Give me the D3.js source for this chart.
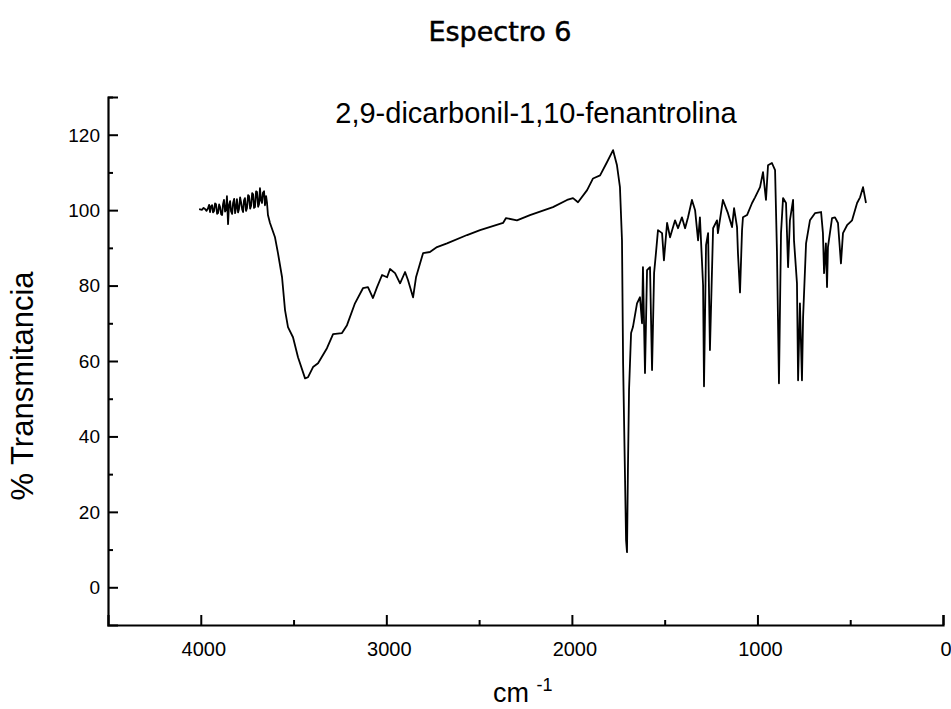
<!DOCTYPE html>
<html>
<head>
<meta charset="utf-8">
<script src="https://cdn.jsdelivr.net/npm/d3@7"></script>
<style>
  html, body { margin: 0; padding: 0; background: #fff; }
  svg { display: block; }
</style>
</head>
<body>
<svg id="chart" width="951" height="709"></svg>
<script>
// ---- data ----
const titleText = "Espectro 6";
const subtitleText = "2,9-dicarbonil-1,10-fenantrolina";
const yLabelText = "% Transmitancia";

const wavenumbers = [
  4009, 3993, 3985, 3977, 3969, 3961, 3955, 3950, 3945, 3939, 3934, 3929, 3923, 3918, 3912, 3907,
  3901, 3896, 3890, 3885, 3880, 3875, 3869, 3864, 3859, 3853, 3848, 3842, 3837, 3831, 3826, 3820,
  3815, 3810, 3805, 3799, 3794, 3788, 3783, 3777, 3772, 3767, 3762, 3756, 3751, 3745, 3740, 3734,
  3729, 3723, 3718, 3713, 3708, 3702, 3697, 3691, 3686, 3681, 3675, 3670, 3665, 3659, 3654, 3648,
  3643, 3638,
  3627, 3600, 3584, 3562, 3546, 3530, 3503, 3476, 3438, 3422, 3395,
  3368, 3320, 3287, 3239, 3212, 3169, 3126, 3099, 3072, 3050, 3023, 2996, 2980, 2953, 2926, 2899,
  2883, 2856, 2840, 2818, 2802, 2765, 2727, 2673, 2565, 2495, 2371, 2355, 2296, 2226, 2102, 2026,
  1994, 1967, 1918, 1886, 1848, 1811, 1778, 1757, 1741, 1730, 1724, 1708, 1703, 1698, 1692, 1681,
  1671, 1649, 1633, 1622, 1617, 1606, 1595, 1579, 1568, 1557, 1547, 1536, 1514, 1504, 1487, 1471,
  1444, 1428, 1407, 1390, 1374, 1353, 1336, 1320, 1310, 1293, 1288, 1277, 1266, 1256, 1239, 1218,
  1213, 1186, 1159, 1137, 1126, 1110, 1105, 1094, 1083, 1078, 1056, 1029, 1013, 986, 970, 954,
  943, 922, 905, 895, 884, 873, 862, 846, 835, 825, 808, 803, 787, 781, 771, 760,
  754, 738, 717, 690, 657, 647, 641, 631, 625, 620, 598, 582, 566, 550, 539, 517,
  490, 463, 447, 431, 415
];
const transmittance = [
  100.3, 100.1, 100.6, 100.3, 99.8, 100.5, 101.4, 99.5, 101.0, 101.3, 99.4, 99.7, 101.8, 101.6, 99.0, 99.2,
  101.5, 100.8, 98.9, 98.7, 101.6, 102.7, 99.6, 100.0, 103.7, 96.3, 101.3, 102.4, 99.7, 99.0, 101.9, 103.0,
  99.2, 100.6, 102.9, 99.4, 100.3, 103.4, 102.1, 100.2, 99.5, 102.6, 103.2, 99.8, 100.5, 104.0, 103.7, 100.4,
  101.1, 104.5, 104.2, 100.6, 100.8, 105.0, 104.8, 100.9, 101.6, 105.8, 102.5, 101.9, 104.6, 105.0, 101.3, 103.7,
  101.9, 98.7,
  96.6, 92.8, 88.6, 82.2, 73.5, 69.0, 66.3, 61.0, 55.4, 55.7, 58.4,
  59.4, 63.4, 67.1, 67.4, 69.5, 75.3, 79.3, 79.6, 76.7, 79.6, 82.8, 82.2, 84.4, 83.3, 80.6, 83.6,
  81.4, 76.9, 82.2, 85.9, 88.6, 88.9, 90.2, 91.2, 93.4, 94.7, 96.6, 97.9, 97.3, 98.7, 100.8, 102.7,
  103.2, 102.1, 105.3, 108.4, 109.2, 112.7, 115.9, 111.9, 106.1, 92.0, 59.4, 12.5, 9.3, 31.0, 52.3, 67.4,
  69.0, 75.3, 76.9, 70.0, 84.9, 56.8, 84.1, 84.9, 57.6, 83.3, 88.6, 94.7, 93.9, 86.7, 96.6, 92.8,
  97.3, 95.2, 98.1, 95.2, 98.1, 102.7, 100.0, 92.0, 98.1, 80.1, 53.3, 90.7, 93.9, 62.9, 95.2, 97.3,
  93.9, 102.7, 99.2, 95.5, 100.5, 95.5, 88.6, 78.2, 94.7, 98.1, 98.7, 101.9, 103.4, 106.1, 110.1, 102.7,
  111.9, 112.5, 110.6, 89.4, 54.1, 93.9, 103.2, 101.9, 84.9, 97.3, 102.7, 92.0, 80.6, 54.9, 75.3, 54.9,
  71.6, 91.2, 97.3, 99.2, 99.5, 93.9, 83.3, 91.2, 79.6, 90.2, 97.9, 98.1, 96.6, 85.9, 93.9, 96.0,
  97.3, 101.9, 103.4, 106.1, 101.9
];

const xMajorTicks = [4000, 3000, 2000, 1000, 0];
const xMinorTicks = [3500, 2500, 1500, 500];
const yMajorTicks = [0, 20, 40, 60, 80, 100, 120];
const yMinorTicks = [10, 30, 50, 70, 90, 110, 130];

// ---- layout ----
const svg = d3.select("#chart");
const plotLeft = 108, plotRight = 943, plotTop = 97, plotBottom = 625;

const x = d3.scaleLinear().domain([4500, 0]).range([plotLeft, plotRight]);
const y = d3.scaleLinear().domain([-10, 130]).range([plotBottom, plotTop]);

const ink = "#000";
const axisFont = "'Liberation Sans', Arial, sans-serif";

// Title
svg.append("text")
  .attr("x", 500).attr("y", 41)
  .attr("text-anchor", "middle")
  .attr("font-family", "'Comic Sans MS', 'DejaVu Sans', sans-serif")
  .attr("font-size", 27)
  .attr("fill", ink)
  .attr("stroke", ink)
  .attr("stroke-width", 0.5)
  .text(titleText);

// Subtitle inside plot
svg.append("text")
  .attr("x", 536).attr("y", 123)
  .attr("text-anchor", "middle")
  .attr("font-family", axisFont)
  .attr("font-size", 29)
  .attr("fill", ink)
  .text(subtitleText);

// Spectrum line
const n = Math.min(wavenumbers.length, transmittance.length);
const points = d3.range(n).map(i => [wavenumbers[i], transmittance[i]]);
svg.append("path")
  .datum(points)
  .attr("fill", "none")
  .attr("stroke", ink)
  .attr("stroke-width", 1.8)
  .attr("stroke-linejoin", "round")
  .attr("d", d3.line().x(d => x(d[0])).y(d => y(d[1])));

// Y axis (ticks inward)
const yAxis = d3.axisRight(y).tickValues(yMajorTicks).tickSize(10).tickFormat("");
const yg = svg.append("g").attr("transform", `translate(${plotLeft},0)`).call(yAxis);
const yMinor = d3.axisRight(y).tickValues(yMinorTicks).tickSize(5).tickFormat("");
const ygm = svg.append("g").attr("transform", `translate(${plotLeft},0)`).call(yMinor);
[yg, ygm].forEach(g => {
  g.select(".domain").attr("stroke", ink).attr("stroke-width", 2.2);
  g.selectAll(".tick line").attr("stroke", ink).attr("stroke-width", 2);
});
ygm.select(".domain").remove();

svg.append("g").selectAll("text")
  .data(yMajorTicks).join("text")
  .attr("x", plotLeft - 8).attr("y", d => y(d))
  .attr("dy", "0.36em")
  .attr("text-anchor", "end")
  .attr("font-family", axisFont)
  .attr("font-size", 19)
  .attr("fill", ink)
  .text(d => d);

// X axis (ticks inward / upward)
const xAxis = d3.axisTop(x).tickValues(xMajorTicks).tickSize(10).tickFormat("");
const xg = svg.append("g").attr("transform", `translate(0,${plotBottom})`).call(xAxis);
const xMinor = d3.axisTop(x).tickValues(xMinorTicks).tickSize(5).tickFormat("");
const xgm = svg.append("g").attr("transform", `translate(0,${plotBottom})`).call(xMinor);
[xg, xgm].forEach(g => {
  g.select(".domain").attr("stroke", ink).attr("stroke-width", 2.2);
  g.selectAll(".tick line").attr("stroke", ink).attr("stroke-width", 2);
});
xgm.select(".domain").remove();

svg.append("g").selectAll("text")
  .data(xMajorTicks).join("text")
  .attr("x", d => x(d) + 3).attr("y", plotBottom + 31)
  .attr("text-anchor", "middle")
  .attr("font-family", axisFont)
  .attr("font-size", 20)
  .attr("fill", ink)
  .text(d => d);

// Y label
svg.append("text")
  .attr("transform", "translate(33,386) rotate(-90)")
  .attr("text-anchor", "middle")
  .attr("font-family", axisFont)
  .attr("font-size", 31)
  .attr("fill", ink)
  .text(yLabelText);

// X label: cm^-1
const xl = svg.append("text")
  .attr("x", 493).attr("y", 702)
  .attr("font-family", axisFont)
  .attr("font-size", 27)
  .attr("fill", ink);
xl.append("tspan").text("cm ");
xl.append("tspan").attr("font-size", 18).attr("dy", -11).text("-1");
</script>
</body>
</html>
